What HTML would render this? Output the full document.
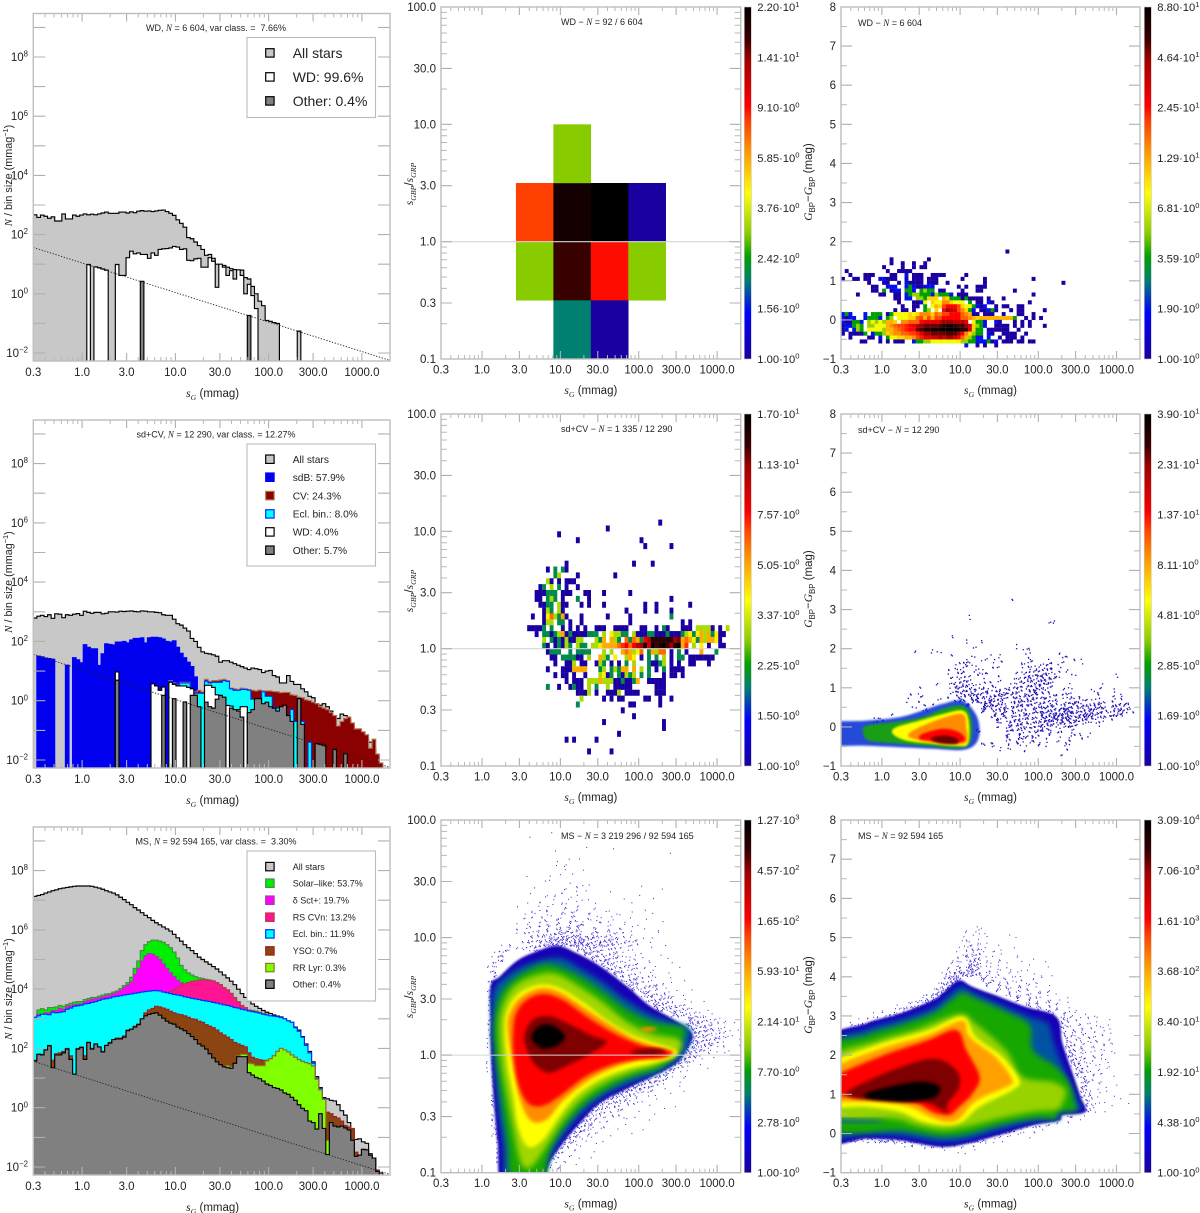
<!DOCTYPE html>
<html lang="en"><head><meta charset="utf-8"><title>Variability amplitude histograms and density maps</title>
<style>html,body{margin:0;padding:0;background:#fff}svg{display:block}</style></head>
<body>
<svg id="chart" xmlns="http://www.w3.org/2000/svg" width="1200" height="1213" viewBox="0 0 1200 1213">
<defs>
<filter id="soft1" x="-20%" y="-20%" width="140%" height="140%"><feGaussianBlur stdDeviation="1.1"/></filter>
<filter id="soft2" x="-20%" y="-20%" width="140%" height="140%"><feGaussianBlur stdDeviation="1.9"/></filter>
<filter id="soft3" x="-20%" y="-20%" width="140%" height="140%"><feGaussianBlur stdDeviation="3"/></filter>
<linearGradient id="cbar" x1="0" y1="1" x2="0" y2="0"></linearGradient>
</defs>
</svg>
<script>
const _ = null;
/* ---------- axis ticks ---------- */
const sgMajorTicks = [1,3,10,30,100,300,1000];
const sgMinorTicks = [.4,.5,.6,.7,.8,.9,2,4,5,6,7,8,9,20,40,50,60,70,80,90,200,400,500,600,700,800,900,2000];
const sgLabels = ['0.3','1.0','3.0','10.0','30.0','100.0','300.0','1000.0'];
const sgLabelValues = [.3,1,3,10,30,100,300,1000];
const ratioMajorTicks = [.1,.3,1,3,10,30,100];
const ratioMinorTicks = [.2,.4,.5,.6,.7,.8,.9,2,4,5,6,7,8,9,20,40,50,60,70,80,90];
const ratioLabels = ['0.1','0.3','1.0','3.0','10.0','30.0','100.0'];
const colourMajorTicks = [-1,0,1,2,3,4,5,6,7,8];
const colourMinorTicks = [-.5,.5,1.5,2.5,3.5,4.5,5.5,6.5,7.5];
const colourLabels = ['\u22121','0','1','2','3','4','5','6','7','8'];
const histYTicks = [-2,-1,0,1,2,3,4,5,6,7,8,9];
const histYLabelled = [-2,0,2,4,6,8];
/* ---------- colour scale ---------- */
const cmapFractions = [0,.13,.224,.29,.355,.47,.58,.67,.72,.85,.91,1];
const cmapColours = ['#1a00a0','#0000ff','#008070','#00a000','#88cc00','#ffff00','#ffa000','#ff4400','#ff0000','#a00000','#3a0000','#000000'];
/* ---------- row 1 histogram (log10 N / bin size, 100 bins) ---------- */
const wdAll = [2.67,2.58,2.66,2.62,2.55,2.6,2.46,2.46,2.7,2.53,2.53,2.66,2.62,2.66,2.7,2.67,2.69,2.67,2.7,2.73,2.76,2.72,2.72,2.72,2.76,2.76,2.73,2.77,2.74,2.79,2.81,2.79,2.8,2.78,2.8,2.82,2.83,2.78,2.72,2.65,2.5,2.38,2.25,1.9,1.86,1.75,1.63,1.5,1.3,1.33,1.2,1.0,.96,.96,.9,.85,.82,.8,.8,.55,.5,.25,.0,-.25,-.4,-.9,-.93,-.97,-1.0,_,_,_,_,_,-1.26];
const wdWD = [_,_,_,_,_,_,_,_,_,_,_,_,_,_,_,.99,_,.91,.88,.84,.8,_,_,.99,.62,.62,1.22,1.44,1.35,1.38,1.33,1.33,1.2,1.38,1.3,1.5,1.52,1.53,1.55,1.6,1.58,1.5,1.52,1.13,1.12,1.18,1.2,.9,.9,1.22,1.1,.22,1.0,.9,.62,.78,.5,.81,.62,.0,.32,-.06,-.5];
const wdOther = [_,_,_,_,_,_,_,_,_,_,_,_,_,_,_,_,_,_,_,_,_,_,_,_,_,_,_,_,_,_,.42,_,_,_,_,_,_,_,_,_,_,_,_,_,_,_,_,_,_,_,_,_,_,_,_,_,_,_,_,_,-.73];
/* ---------- row 2 histogram ---------- */
const sdAll = [2.79,2.85,2.88,2.84,2.9,2.78,2.93,2.92,2.8,2.9,2.88,2.92,2.94,2.88,3.02,2.98,2.95,2.98,2.98,2.93,2.95,3.0,3.0,2.99,3.02,3.01,3.02,3.03,3.01,3.0,3.03,3.02,3.0,3.0,2.98,2.97,2.9,2.88,2.88,2.75,2.6,2.55,2.45,2.35,2.1,2.0,1.8,1.65,1.6,1.58,1.55,1.5,1.3,1.35,1.35,1.3,1.25,1.2,1.15,1.1,1.05,1.1,1.08,1.05,.95,1.0,1.02,.85,.8,.6,.6,.85,.65,.55,.55,.4,.3,.15,.1,-.1,-.15,-.1,-.2,-.35,-.5,-.6,-.45,-.5,-.65,-.85,-1.0,-1.05,-1.2,-1.3,-1.4,-1.6,-1.9,-2.2,-2.4];
const sdB = [_,1.5,1.48,1.44,1.42,1.4,_,_,_,1.2,_,1.45,1.38,1.28,1.89,1.8,1.75,1.75,1.19,1.58,1.92,1.9,1.88,1.98,1.98,2.0,1.95,2.05,2.1,2.1,2.12,1.95,2.12,2.14,2.14,2.12,2.08,2.0,1.98,2.02,1.8,1.6,1.45,1.3,1.15,.8,.25,.25];
const sdCV = [_,_,_,_,_,_,_,_,_,_,_,_,_,_,_,_,_,_,_,_,_,_,_,_,_,_,_,_,_,_,_,_,_,_,_,_,_,_,.68,.6,.55,.62,.62,.62,.35,.3,.35,.3,.72,.65,.68,.68,.7,.72,.68,.42,.4,.38,.42,.4,.38,.35,.33,.36,.33,.33,.33,.31,.3,.27,.28,.28,.2,.18,.12,.1,.03,0,-.05,-.1,-.2,-.25,-.3,-.4,-.5,-.85,-.7,-.6,-.55,-.75,-.95,-.95,-1.05,-1.15,-1.6,-1.3,-1.8,-2.1,-2.3];
const sdEcl = [_,_,_,_,_,_,_,_,_,_,_,_,_,_,_,_,_,_,_,_,_,_,_,_,_,_,_,_,_,_,_,_,_,_,_,_,_,_,.66,.58,.53,.6,.6,.6,.3,.25,.25,.25,.66,.6,.62,.62,.62,.68,.65,.4,.35,.35,.38,.38,.35,.05,.05,.05,.3,.15,.15,-.22,-.25,-.25,-.3,-.6,-.3,-.7,-.7,-.7,_,-1.4,_,_,-1.5];
const sdWD = [_,_,_,_,_,_,_,_,_,_,_,_,_,_,_,_,_,_,_,_,_,_,_,.97,_,_,_,_,_,_,_,_,_,.57,.5,.35,.46,_,.62,.55,.5,.5,.5,.45,.4,.18,_,_,.52,.52,.45,.2,.15,_,-.16,-.18,_,-.3,-.2,-.2];
const sdOther = [_,_,_,_,_,_,_,_,_,_,_,_,_,_,_,_,_,_,_,_,_,_,_,.69,_,_,_,_,_,_,_,_,_,_,_,_,.18,_,_,.07,_,_,-.04,_,.18,.18,-.2,_,-.05,-.2,-.25,.05,.18,.12,_,-.25,-.3,-.35,-.55,_,-.4,-.3,.07,.07,-.1,-.05,-.2,-.25,-.35,-.2,-.15,-.5,-.7,_,.07,-.8,_,_,_,-1.45,-1.47,-1.5,_,_,-1.64,_,_,-1.79];
/* ---------- row 3 histogram ---------- */
const msAll = [7.13,7.16,7.19,7.24,7.28,7.32,7.35,7.39,7.41,7.43,7.45,7.47,7.48,7.48,7.48,7.48,7.47,7.44,7.41,7.37,7.32,7.28,7.24,7.18,7.1,7.02,6.93,6.85,6.75,6.67,6.58,6.49,6.41,6.32,6.24,6.17,6.1,6.03,5.96,5.85,5.73,5.62,5.5,5.4,5.3,5.2,5.08,5.0,4.92,4.84,4.76,4.68,4.58,4.48,4.38,4.27,4.15,4.0,3.85,3.72,3.6,3.5,3.42,3.35,3.28,3.22,3.18,3.13,3.09,3.06,3.0,2.93,2.88,2.72,2.62,2.4,2.15,1.9,1.55,1.05,.68,.34,.3,.25,.23,.1,-.1,-.25,-.5,-.75,-1.07,-1.05,-1.15,-1.2,-1.55,-1.7,-2.15,-2.2];
const msSolar = [3.05,3.3,3.34,3.3,3.38,3.38,3.4,3.45,3.42,3.48,3.52,3.56,3.58,3.58,3.65,3.68,3.72,3.72,3.76,3.8,3.84,3.85,3.9,3.94,4.02,4.12,4.22,4.4,4.7,4.95,5.3,5.5,5.6,5.65,5.65,5.62,5.58,5.5,5.4,5.25,5.05,4.8,4.65,4.55,4.48,4.42,4.38,4.36,4.33,4.31,4.28,4.22,4.15,4.05,3.98,3.86,3.72,3.58,3.45,3.38,3.3,3.28,3.26,3.22,3.18,3.16];
const msDSct = [3.02,3.15,3.15,3.2,3.2,3.28,3.28,3.35,3.32,3.42,3.44,3.48,3.5,3.5,3.58,3.62,3.66,3.68,3.7,3.74,3.78,3.8,3.85,3.9,3.96,4.06,4.14,4.25,4.5,4.7,4.95,5.13,5.2,5.18,5.1,5.0,4.85,4.7,4.55,4.42,4.3,4.22,4.16,4.12,4.1,4.08];
const msRSCVn = [_,_,_,_,_,_,_,_,_,_,_,_,_,_,_,_,_,_,_,_,_,_,_,_,_,_,_,_,_,_,_,_,_,_,_,_,_,3.9,3.92,3.98,4.06,4.12,4.18,4.22,4.26,4.28,4.3,4.31,4.3,4.29,4.27,4.22,4.15,4.05,3.97,3.85,3.7,3.56,3.44,3.38,3.28,3.26,3.22,3.2,3.16];
const msEcl = [3.05,3.1,3.15,3.15,3.14,3.22,3.2,3.22,3.24,3.32,3.36,3.42,3.44,3.46,3.5,3.52,3.55,3.58,3.62,3.66,3.68,3.7,3.74,3.76,3.78,3.8,3.82,3.84,3.86,3.88,3.9,3.92,3.93,3.95,3.95,3.94,3.9,3.88,3.85,3.82,3.8,3.78,3.74,3.72,3.69,3.67,3.65,3.62,3.6,3.58,3.55,3.53,3.5,3.47,3.45,3.42,3.38,3.36,3.32,3.3,3.26,3.24,3.22,3.19,3.15,3.13,3.1,3.09,3.07,3.04,3.0,2.93,2.88,2.7,2.58,2.38,2.1,1.85,1.5,1.0,.65,.3];
const msYSO = [1.6,1.8,1.8,1.95,2.1,1.6,1.82,1.85,1.9,2.0,1.75,1.13,2.0,2.05,1.75,2.2,2.0,2.15,2.05,1.9,2.1,2.2,2.3,2.35,2.35,2.42,2.62,2.65,2.75,2.82,3.0,3.2,3.3,3.35,3.42,3.4,3.36,3.32,3.25,3.2,3.16,3.14,3.1,3.05,3.0,2.98,2.92,2.88,2.8,2.75,2.7,2.62,2.52,2.45,2.38,2.3,2.2,2.15,2.1,2.05,1.85,1.7,1.65,1.62,1.6,1.6,1.65,1.75,1.9,2.0,1.95,1.88,1.78,1.7,1.62,1.56,1.52,1.48,1.4,.96,.6,.28,-.15,-.2,-.3,-.35,-.45,-.6,-.65,-.7,-1.5,-1.6,-1.4,-1.42,-1.6,-1.7,-2.1];
const msRRLyr = [_,_,_,_,_,_,_,_,_,_,_,_,_,_,_,_,_,_,_,_,_,_,_,_,_,_,_,_,_,_,_,_,_,_,_,_,_,_,_,_,_,_,_,_,_,_,_,_,_,_,_,_,_,_,1.42,1.38,_,1.75,1.8,1.8,1.5,1.48,1.42,1.42,1.42,1.58,1.65,1.75,1.9,2.0,1.95,1.88,1.78,1.7,1.62,1.56,1.52,1.48,1.4,.96,.6,.28,-1.1];
const msOther = [1.58,1.8,1.78,1.95,2.09,1.35,1.78,1.78,1.85,1.98,1.63,1.13,1.98,2.03,1.63,2.2,1.98,2.15,2.05,1.88,2.1,2.18,2.3,2.32,2.32,2.38,2.6,2.65,2.72,2.8,3.0,3.1,3.15,3.18,3.2,3.12,3.02,2.92,2.85,2.82,2.72,2.66,2.6,2.5,2.4,2.3,2.15,2.08,1.98,1.82,1.68,1.55,1.45,1.38,1.35,1.33,1.5,1.72,1.72,1.72,1.18,1.1,1.02,.98,.9,.8,.75,.68,.65,.6,.5,.45,.35,.25,.1,-.02,-.1,-.45,-.5,-.72,-.2,-.7,-1.58,-.5,-.62,-.65,-.62,-.68,-.75,-1.1,-1.64,-1.6,-1.41,-1.42,-1.6,-1.7,-2.15];
/* one-star-per-bin reference line: log10 s endpoints and log10 N */
const refLineLogS = [-.523,3.3];
const refLineLogN = [1.565,-2.25];
/* ---------- WD ratio map, 8 x 6 bins: [row, col, count] ---------- */
const wdRatioCounts = [[2,2,8],[2,3,20],[2,4,22],[2,5,1],[1,2,3],[1,3,17],[1,4,9],[1,5,3],[0,3,2],[0,4,1],[3,3,3]];
/* ---------- sparse rows: [row from bottom, "col cells col cells ..."] ---------- */
const sdRatioRows = [[41,"58 1"],[40,"44 1"],[39,"31 1"],[38,"36 1 53 1"],[37,"54 1 61 1"],[34,"33 1 51 1 56 1"],[33,"28 1 30 2 32 21"],[32,"30 2 31 3 36 1 46 1"],[31,"28 31 31 1 33 111"],[30,"26 12 29 3 31 2 33 1 36 1"],[29,"25 111 28 222 32 111 38 11 43 1 50 1"],[28,"25 11 28 232 32 1 36 2 39 1 61 1"],[27,"26 11 28 22 31 311 37 1 39 1 43 1 54 1 57 1 66 1"],[26,"27 13 29 2 31 31 49 1 54 1 57 1 61 1"],[25,"24 1 27 14 29 63 31 251 37 1 44 1 50 1 61 2"],[24,"27 13 29 3 31 22 34 1 37 1 50 1 64 1 66 1"],[23,"23 111 26 12 29 2 32 1 34 1 36 1 38 1 41 111 46 11 48 11 53 11 57 1 59 21 64 11 66 1 68 3333 72 1 74 1 76 3"],[22,"25 1 27 22 29 12 31 3512 35 1111 39 222 43 3 45 4 46 3322 51 3111 55 2211 59 12 60 2111 64 2342 68 4535 72 2411"],[21,"27 3 29 2 30 1213 34 1133 41 32 43 5 45 532 49 6265 53 24 54 8a 56 eeeeee 62 bc 64 5654 68 2535 72 541"],[20,"27 2 28 1 30 1213 34 2 36 322 40 3344 43 5555 47 6786 51 8abe 54 f9hdfhdbfg 64 57 67 3 69 4 71 1 74 11"],[19,"28 1222 34 2 36 222 39 2 43 3 45 3 48 565 51 346 55 2 56 5366 61 1 63 2 65 1 69 5 73 2"],[18,"29 11 32 222211 39 3 42 5 43 32 46 4 49 354 53 1 55 2 57 2 59 3 61 1 63 22 66 11 68 1111 72 1"],[17,"30 1 33 113 37 11 41 1 42 3 43 2 45 1 47 1 49 2 51 3 55 21 57 123 61 1 63 1 66 11 71 1"],[16,"28 1 32 111 35 5555 42 2 43 3 45 2 46 3255 51 5 53 3 55 2 57 1 59 2 61 1111"],[15,"30 1 32 1 33 1 35 1 38 1 42 34 44 12 47 2132 51 3 53 2 55 2 59 1 61 1 62 1 64 1"],[14,"33 1 35 111 39 333 42 5 43 3 44 33 46 11211 51 2 52 5 55 1 56 1111"],[13,"28 2 31 1 34 12 36 11 39 3 41 2 44 3 46 11111 57 111"],[12,"36 111 39 3 41 1 44 111 47 3 49 11 51 11 57 111"],[11,"37 3 43 1 45 1 47 1 48 1 54 11 58 1 61 1"],[10,"36 2 50 11 58 1"],[9,"48 1"],[8,"51 1"],[7,"43 1 59 1"],[6,"59 1"],[5,"47 1"],[4,"33 1 35 1 41 1"],[2,"39 1 45 1"]];
const wdColourRows = [[27,"44 1"],[25,"13 1 23 1"],[24,"13 1 16 1 19 1 22 1"],[23,"11 1 16 1 19 1 21 11"],[22,"1 1 12 1 15 1111"],[21,"2 1 6 111 13 11 17 2 19 111 24 1111 33 1"],[20,"0 1 3 11 6 11 10 22 12 111 17 1 19 111 23 111 32 1 38 1 51 1"],[19,"7 1 11 11 15 1 17 21 19 111 23 111 28 1 38 1 59 1"],[18,"8 11 12 222 17 232 20 112 23 22 31 1 33 1 36 111"],[17,"8 11 11 3 13 122 17 332 21 3433 26 11 32 1 36 11 46 1"],[16,"4 1 10 11 14 11 17 234 20 433 23 3243 27 332 31 11 33 1 51 1"],[15,"14 11 17 22 20 443 23 666 27 763 30 331 33 311 36 11 39 1 43 1"],[14,"15 1 19 112 22 5 24 655 27 886 30 555 34 3 36 11 39 21 50 1"],[13,"16 1 19 11 22 3 24 576 27 accca 32 655 35 3 36 212 41 1 43 11 47 11"],[12,"14 1 16 11 19 1 22 34 25 6 27 cgfea 32 86 34 32 37 11 39 23 41 1 45 1 47 11 54 1"],[11,"0 232 6 2 8 333 12 135 15 555656 21 888698 27 aaccc 32 987 35 11 38 111 43 1 47 11 51 1"],[10,"0 2 1 122 6 23332 12 34 15 55566 20 9a7a7aa 27 ccccc 32 99876 37 777777777 46 3 49 1 51 1 53 1"],[9,"0 211332 7 45454 12 776 16 88999 21 cdddde 27 gggfffd 35 5332 41 21 46 1 48 1 50 1"],[8,"0 1 1 22343 7 44555 12 789aabcd 20 fghhhhi 27 jklji 32 ige 35 6432 41 1111 46 1 48 1 50 1 54 1"],[7,"0 12 3 243 7 55554 12 7789abcc 20 hijklll 27 mmmmm 32 kje 35 633 39 11 41 1111 47 1"],[6,"0 1 2 1111 6 3 8 2334 12 6788 16 99aab 21 dgghhh 27 hiiig 32 c86 35 433 39 21 43 1 44 111 49 1"],[5,"2 1 7 11 10 2 12 35566778 20 abddeeg 27 eggec 32 974 35 322 39 2 42 1 44 111 48 1"],[4,"5 11 10 1 12 1 14 111 19 23344555 27 55555443 35 3222 39 312 43 111 47 11 50 11"],[3,"33 2 36 1 38 1 41 1"]];
const wdColourLevelFractions = [0,0,.14,.29,.37,.46,.52,.56,.6,.64,.67,.7,.72,.75,.78,.81,.85,.88,.9,.93,.95,.97,1];
const sdColourDots = [[34,"34 1"],[30,"25 1"],[29,"41 11"],[26,"22 1"],[25,"25 1 28 1"],[24,"26 1 35 1 37 1"],[23,"14 1 18 1 19 1 36 11 43 1"],[22,"22 1 26 1 29 1 31 1 37 1 44 1 45 1"],[21,"23 11 25 2 28 1 30 1 32 1 36 11 38 1 41 11 44 1 46 1 48 1"],[20,"22 1 24 11 26 1 30 11 36 1 37 11 39 11 41 21 43 1"],[19,"21 1 23 22 26 111 29 1 35 1 36 121 39 213 42 11 45 1"],[18,"21 11 23 111 27 11 31 1 35 1 36 231 39 342 42 21 46 1 55 1"],[17,"22 121 25 2 28 11 31 1 34 11 36 2223 40 43 42 1"],[16,"15 1 19 1 21 122 24 322 27 11 30 2 33 1 34 1212 38 332 41 21 45 1 52 1"],[15,"22 1 23 323 26 2 28 231 31 31 33 2121 37 3422 41 1 44 1 46 1 50 11 54 1"],[14,"13 1 15 11 21 2 23 332 26 342 29 222 32 3232 36 222 39 222 42 11 44 121 47 1 51 1 54 1 56 1"],[13,"13 1 15 1 19 1 22 12 24 2 26 45 28 24 30 323 34 3323 38 2221 42 11 44 1 45 1 46 22 48 11 50 11 52 1 54 2 56 1"],[12,"14 1 16 1 18 1 25 4 28 53 30 333 34 2223 38 3233 42 3 43 1 44 3232 48 333 51 32 54 232 57 2"],[11,"16 11 28 5 30 3 31 34 33 1312 38 3233 42 33 44 543 47 343 50 332 53 223 56 321 58 1"],[10,"10 1 30 5 32 4 34 3 35 1222 40 5454 44 453 47 444 50 423 53 1 54 232"],[9,"6 12 8 1 31 4 33 222 36 1223 40 4343 44 552 47 322 50 21 52 1 54 1"],[8,"31 2 33 313 36 2222 40 2323 44 232 47 1 48 1 51 1"],[7,"27 3 33 22 35 222 38 1 39 23 41 2 43 11 46 1"],[6,"33 3 35 211 38 21 41 2 43 1 46 21 49 1"],[5,"33 2 35 22 38 3 41 1 43 1 45 2 48 1"],[4,"28 2 30 3 33 1 35 2 37 1 39 2 41 1 44 11"],[3,"31 1 33 1 36 1 45 1"],[2,"44 1"]];
const msRatioDots = [[67,"22 1"],[66,"17 1"],[64,"29 1 34 1"],[63,"22 1 45 1"],[62,"25 1 27 1"],[61,"23 2 24 1"],[60,"24 2 28 1"],[59,"23 1 26 1"],[58,"17 1 21 2"],[57,"20 1 25 1 28 11"],[56,"18 1 24 2 27 21 40 1 44 1"],[55,"17 1 21 11 24 2 27 2 33 1 39 1"],[54,"20 1 22 2 25 2 28 11 36 1 42 1"],[53,"17 1 19 2 22 1 24 3 27 2 30 1 38 1"],[52,"15 1 19 2 21 3 24 3 27 3 30 2 33 1 40 1"],[51,"16 1 18 3 21 3 24 4 26 4 29 3 32 1 35 2 38 1 42 1"],[50,"16 2 18 2 20 4 23 5 26 5 29 3 31 3 34 2 37 1 41 1"],[49,"15 1 17 2 19 3 21 4 23 4 25 5 27 5 28 4 31 3 33 3 36 2 39 1 44 1"],[48,"15 2 17 3 19 4 21 5 23 6 25 6 27 6 30 4 33 3 35 3 38 2 40 1 43 1"],[47,"15 1222334445566 30 5 31 4 33 4 34 212 38 1 43 1"],[46,"17 2345678 24 988776554 33 44332 38 211 42 1"],[45,"16 234567 22 9999998877 32 66543 37 322 41 1 44 1"],[44,"15 23456 27 7654433 34 32 37 11 42 1"],[43,"28 7654433 35 32 38 11 43 1"],[42,"30 7654332 37 22 40 11 45 1"],[41,"32 654332 38 22 41 11 46 1"],[40,"33 65432 38 322 42 1 47 1"],[39,"34 654321 41 21 45 1"],[38,"36 65432 41 22 45 1 48 1"],[37,"37 65432 42 322 46 1"],[36,"38 65432 43 21 47 1 50 1"],[35,"40 6543 44 321 48 1"],[34,"41 6543 45 32 48 1 52 1"],[33,"42 7654 46 322 50 1"],[32,"43 8765 47 332 50 1 53 1"],[31,"46 765 49 332 52 2 54 1"],[30,"49 84 51 433 54 21 56 1"],[29,"49 765 52 4322 56 1 58 1"],[28,"50 76 52 5443 56 21 59 1"],[27,"50 55433 55 3211 60 1"],[26,"49 86 51 4544 55 32 59 1"],[25,"49 876 52 553 55 32 59 1"],[24,"48 987 51 332 55 1 57 1"],[23,"47 987 50 54 53 2 56 1"],[22,"46 987 49 52 52 1 54 1"],[21,"45 76 47 432 51 1"],[20,"43 76 45 443 49 1 53 1"],[19,"42 87 44 432 48 1"],[18,"40 876 43 432 47 11"],[17,"38 876 41 5321 47 1"],[16,"36 876 39 5432 44 1 48 1"],[15,"34 87 36 6432 41 11 45 1"],[14,"31 87 33 66432 39 21 43 1"],[13,"29 87 31 65543 37 32 41 1 46 1"],[12,"28 87 30 5543 35 32 39 1 44 1"],[11,"27 77 29 5443 34 32 38 1 42 1"],[10,"26 78 28 6532 33 2 36 11 41 1"],[9,"25 88 27 6543 32 2 36 1"],[8,"24 88 26 6543 31 2 35 1 40 1"],[7,"23 88 25 654 29 32 33 1 38 1"],[6,"22 88 24 654 28 2 32 1"],[5,"21 88 23 654 27 2 31 1"],[4,"20 87 22 654 26 2 30 1"],[3,"20 7 21 654 25 2 29 1"],[2,"19 87 21 54 24 2 27 1"],[1,"19 7 20 54 23 2 26 1"],[0,"18 87 20 4 23 1"]];
const msRatioLeftDots = [[45,"12 12"],[44,"11 123"],[43,"10 133"],[42,"10 134"],[41,"9 14"],[40,"9 14"],[39,"9 15"],[38,"9 15"],[37,"9 25"],[36,"9 25"],[35,"9 25"],[34,"9 25"],[33,"9 15"],[32,"9 15"],[31,"9 14"],[30,"9 24"],[29,"9 24"],[28,"9 24"],[27,"9 24"],[26,"9 14"],[25,"9 14"],[24,"9 14"],[23,"9 15"],[22,"9 15"],[21,"9 15"],[20,"9 26"],[19,"10 26"],[18,"10 26"],[17,"10 36"],[16,"10 36"],[15,"10 36"],[14,"10 46"],[13,"10 46"],[12,"10 247"],[11,"10 247"],[10,"10 347"],[9,"10 257"],[8,"10 257"],[7,"10 367"],[6,"11 37"],[5,"11 47"],[4,"11 38"],[3,"11 38"],[2,"11 38"],[1,"12 27"],[0,"12 27"]];
const msColourDots = [[48,"25 1 27 2 28 1"],[47,"24 1 26 211 33 1"],[46,"24 2 25 2 27 1 29 1 35 1"],[45,"24 1 25 31 27 3 29 1 31 1"],[44,"23 1 25 3 26 3 27 3 28 2 30 1 32 1 34 1"],[43,"23 12 25 35 27 4 28 1 30 2 32 1 35 1"],[42,"22 1 23 3 25 55 27 4 29 2 31 2 35 11 38 1"],[41,"22 2 23 4 25 76 27 5 29 3 31 2 33 1 37 1 40 1"],[40,"21 3 23 6 25 88 27 6 29 3 31 2 33 2 36 11 41 1"],[39,"20 24 22 67 24 988 27 7 29 4 31 3 33 2 35 2 38 1 40 1 42 1"],[38,"20 35 22 89 28 8 30 5 32 3 34 3 36 2 38 2 40 1"],[37,"19 15 21 79 29 8 31 5 33 4 35 3 37 3 39 2 41 1"],[36,"18 14 20 68 31 7 33 5 35 4 37 3 39 2 41 2"],[35,"16 1 17 25 19 79 33 7 35 5 37 4 39 3 41 2 43 1"],[34,"14 1 15 13 17 58 35 7 37 5 39 4 41 3 43 1 45 1"],[33,"11 1 13 23 15 47 17 9 37 8 39 6 41 5 43 3 45 1"],[32,"8 1 10 12 12 34 14 68 39 8 41 6 43 4 45 2 47 1"],[31,"6 11 8 23 10 45 12 79 42 7 44 4 46 3 48 1 50 1"],[30,"3 1 5 22 7 34 9 58 44 6 45 4 47 3 49 2 51 2 53 1"],[29,"1 22 3 34 5 46 7 79 44 5 45 4 47 3 49 2 51 2 53 1"],[28,"0 2233 4 56 6 79 44 5 46 4 48 3 50 3 52 2 53 1"],[27,"0 4455 4 788 44 6 46 5 48 4 50 3 52 2 54 1"],[26,"0 777 45 6 47 5 49 4 51 3 53 2"],[25,"45 65 48 4 50 3 52 3 54 2"],[24,"45 6 46 5 48 4 50 3 52 2 54 1"],[23,"45 76 48 4 50 3 52 2 54 1"],[22,"46 65 48 4 50 3 52 2"],[21,"46 7 47 5 49 4 51 2 53 2"],[20,"47 65 49 3 51 2 53 1"],[19,"47 7 48 5 50 3 52 2 54 1"],[18,"48 54 50 2 52 1"],[17,"48 6 49 3 51 2 53 1 55 1"],[16,"48 6 49 3 51 1 53 1"],[15,"48 6 49 4 51 2 54 1"],[14,"49 4 50 2 52 1 56 1"],[13,"49 53 51 1 54 1 57 1"],[12,"49 6 50 2 52 1"],[11,"45 2 46 4 48 1"],[10,"40 3 41 4 42 5 43 4 45 2 47 1"],[9,"35 3 36 5 37 6 38 5 39 4 41 3 43 1"],[8,"30 4 31 6 32 7 33 6 34 5 36 3 38 2 40 1"],[7,"24 3 25 6 26 8 27 8 28 7 29 6 31 4 33 3 35 2 37 1"],[6,"0 4454455566667788889999 24 88765 30 2 32 1"],[5,"10 1 12 2 14 3 16 4 18 5 20 5 22 4 24 3 26 2 28 1"],[4,"16 1 20 1 23 1 26 1"],[3,"24 1"]];
/* fixed placement tables for successive dots inside a density cell */
const ditherX = [.31,.83,.12,.57,.94,.42,.07,.71,.25,.63,.88,.18,.49,.02,.76,.36,.97,.54,.21,.68,.09,.45,.8];
const ditherY = [.62,.11,.87,.38,.74,.03,.51,.93,.27,.68,.16,.44,.81,.33,.58,.97,.22,.72,.06];
/* ---------- density contours: [colour fraction, log10 s list, value list, optional opacity] ---------- */
const msRatioContours = [
 [.03,[.11,.11,.23,.44,.65,.95,1.2,1.5,1.84,2.14,2.4,2.61,2.69,2.61,2.48,2.18,1.84,1.5,1.25,1.03,.86,.74,.27,.2,.16,.13,.11],[.28,.59,.67,.8,.87,.93,.87,.76,.59,.42,.32,.23,.16,.05,-.07,-.18,-.29,-.41,-.58,-.75,-.92,-1.15,-1.15,-.75,-.46,-.18,.11]],
 [.2,[.13,.15,.31,.54,.82,1.03,1.25,1.54,1.84,2.14,2.44,2.65,2.63,2.52,2.23,1.89,1.54,1.25,1.03,.86,.74,.33,.27,.21,.17,.14],[.28,.55,.67,.76,.82,.82,.74,.62,.47,.35,.28,.23,.08,-.03,-.15,-.24,-.35,-.51,-.69,-.88,-1.15,-1.15,-.75,-.46,-.15,.11]],
 [.3,[.16,.23,.4,.65,.86,1.16,1.5,1.84,2.18,2.57,2.54,2.48,2.27,1.93,1.59,1.29,1.03,.86,.74,.4,.33,.27,.2,.16],[.28,.5,.64,.74,.77,.7,.56,.39,.28,.23,.11,.01,-.11,-.18,-.29,-.43,-.63,-.83,-1.15,-1.15,-.75,-.46,-.12,.11]],
 [.38,[.22,.27,.42,.69,.95,1.23,1.54,1.86,2.18,2.52,2.5,2.23,1.89,1.54,1.25,1.01,.82,.63,.5,.4,.32,.25],[.25,.43,.59,.68,.69,.59,.45,.28,.18,.13,.02,-.08,-.15,-.25,-.39,-.58,-.78,-.95,-.92,-.63,-.35,-.07]],
 [.47,[.29,.33,.48,.74,.99,1.29,1.59,1.89,2.18,2.48,2.44,2.18,1.84,1.5,1.2,.99,.78,.59,.46,.4,.33],[.22,.39,.53,.6,.57,.45,.3,.18,.11,.04,-.02,-.07,-.12,-.21,-.35,-.52,-.72,-.78,-.61,-.35,-.09]],
 [.6,[.33,.37,.51,.76,1.01,1.31,1.63,1.97,2.35,2.46,2.31,2.01,1.67,1.35,1.03,.82,.63,.5,.42],[.22,.38,.5,.57,.53,.4,.26,.13,.05,.02,-.02,-.04,-.11,-.22,-.39,-.55,-.56,-.41,-.18]],
 [.72,[.4,.44,.57,.78,1.03,1.33,1.67,2.01,2.35,2.42,2.31,1.97,1.67,1.33,.99,.78,.59,.46,.4],[.22,.36,.47,.52,.47,.33,.19,.09,.04,.02,-.02,-.04,-.08,-.18,-.35,-.43,-.41,-.24,.02]],
 [.87,[.54,.65,.86,1.12,1.42,1.59,1.33,1.08,.86,.69,.59],[.16,.3,.33,.26,.16,.11,-.01,-.09,-.15,-.09,.02]],
 [.87,[1.93,2.18,2.35,2.18,1.93],[.04,.06,.03,0,.01]],
 [.6,[2.02,2.12,2.24,2.12],[.22,.24,.22,.2]],
 [1,[.63,.74,.91,1.06,.95,.76],[.15,.25,.25,.16,.08,.06]]
];
const msColourContours = [
 [.03,[-.75,-.2,.23,.65,.82,.99,1.16,1.5,1.84,2.23,2.31,2.44,2.54,2.6,2.31,2.27,1.93,1.5,1.08,.74,.23,-.2,-.75],[2.25,2.81,3.06,3.4,3.66,3.91,3.74,3.49,3.23,2.98,2.3,1.53,.94,.55,.47,.34,.21,-.04,-.26,-.34,-.17,-.13,-.1]],
 [.19,[-.75,-.2,.23,.65,.84,1.01,1.18,1.54,1.89,2.12,2.2,2.35,2.48,2.54,2.28,2.25,1.93,1.5,1.08,.74,.23,-.2,-.75],[2.15,2.66,2.91,3.21,3.51,3.76,3.59,3.28,2.98,2.81,2.3,1.53,.94,.6,.53,.36,.3,.09,-.15,-.21,-.06,-.02,.03]],
 [.3,[-.75,-.2,.23,.65,.86,1.03,1.2,1.59,1.89,1.93,2.23,2.4,2.46,2.48,2.25,2.23,1.93,1.5,1.08,.74,.23,-.75],[2.08,2.51,2.77,3.06,3.36,3.59,3.45,3.11,2.77,2.13,1.7,1.28,.85,.6,.55,.38,.38,.21,-.02,-.07,.07,.17]],
 [.37,[-.75,-.07,.44,.99,1.2,1.59,1.8,2.18,2.35,2.31,2.23,1.93,1.5,1.08,.78,.44,.14,-.75],[1.83,2.37,2.66,3.05,2.8,2.11,1.45,1.32,1.11,.77,.6,.55,.38,.17,.09,.21,.38,.45]],
 [.2,[-.75,-.2,.05,-.2,-.75],[.39,.36,.32,.26,.28]],
 [.47,[-.75,-.07,.57,1.03,1.2,1.54,1.76,1.67,1.25,1.03,.82,.52,.23,-.2,-.75],[1.66,2.26,2.62,2.98,2.47,1.96,1.36,1.11,.68,.3,.21,.3,.55,.68,.74]],
 [.58,[-.75,-.07,.57,1.03,1.12,1.46,1.67,1.59,1.2,.99,.82,.61,.35,-.07,-.75],[1.53,2.13,2.51,2.88,2.47,1.94,1.36,1.19,.83,.38,.3,.43,.68,.81,.87]],
 [.72,[-.75,-.03,.57,.95,1.08,1.25,1.16,.99,.86,.65,.44,.06,-.75],[1.32,1.96,2.37,2.64,2.13,1.45,1.02,.68,.47,.55,.77,.89,1.0]],
 [.87,[-.41,.14,.65,.95,.99,.84,.82,.61,.27,-.2,-.41],[1.11,1.62,1.91,1.62,1.19,.77,.55,.77,.83,.87,.94]],
 [1,[-.2,.18,.52,.74,.69,.52,.23,-.16],[1.02,1.23,1.32,1.19,.94,.85,.81,.89]]
];
const sdColourContours = [
 [.16,[-.7,-.2,.23,.52,.78,1.03,1.2,1.25,1.2,1.03,.65,.23,-.2,-.7],[.08,.16,.25,.42,.59,.67,.33,-.09,-.43,-.59,-.56,-.52,-.48,-.43],.85],
 [.3,[-.2,.14,.52,.78,1.03,1.14,1.14,.99,.65,.23,-.16,-.24],[.03,.12,.25,.46,.54,.25,-.35,-.54,-.5,-.43,-.35,-.14],.9],
 [.47,[.18,.48,.78,1.03,1.11,1.1,.95,.65,.31,.14],[-.01,.16,.33,.42,.16,-.43,-.48,-.43,-.35,-.18]],
 [.6,[.4,.74,1.03,1.08,1.08,.86,.61,.35],[-.09,.2,.33,-.01,-.39,-.43,-.39,-.26]],
 [.72,[.52,.78,.99,1.06,.86,.61,.48],[-.18,-.05,-.14,-.35,-.42,-.35,-.31]],
 [.88,[.65,.82,.97,.95,.78,.65],[-.26,-.22,-.31,-.43,-.42,-.35]]
];
/* ---------- text content ---------- */
const rowAnnotations = [
 ['WD, ','N',' = 6 604, var class. =\u00a0\u00a07.66%'],
 ['sd+CV, ','N',' = 12 290, var class. = 12.27%'],
 ['MS, ','N',' = 92 594 165, var class. =\u00a0\u00a03.30%']];
const ratioAnnotations = [['WD \u2212 ','N',' = 92 / 6 604'],['sd+CV \u2212 ','N',' = 1 335 / 12 290'],['MS \u2212 ','N',' = 3 219 296 / 92 594 165']];
const colourAnnotations = [['WD \u2212 ','N',' = 6 604'],['sd+CV \u2212 ','N',' = 12 290'],['MS \u2212 ','N',' = 92 594 165']];
const ratioBarLabels = [
 ['2.20^1','1.41^1','9.10^0','5.85^0','3.76^0','2.42^0','1.56^0','1.00^0'],
 ['1.70^1','1.13^1','7.57^0','5.05^0','3.37^0','2.25^0','1.50^0','1.00^0'],
 ['1.27^3','4.57^2','1.65^2','5.93^1','2.14^1','7.70^0','2.78^0','1.00^0']];
const colourBarLabels = [
 ['8.80^1','4.64^1','2.45^1','1.29^1','6.81^0','3.59^0','1.90^0','1.00^0'],
 ['3.90^1','2.31^1','1.37^1','8.11^0','4.81^0','2.85^0','1.69^0','1.00^0'],
 ['3.09^4','7.06^3','1.61^3','3.68^2','8.40^1','1.92^1','4.38^0','1.00^0']];
const legendWD = [['All stars','#c8c8c8','#000'],['WD: 99.6%','#ffffff','#000'],['Other: 0.4%','#808080','#000']];
const legendSD = [['All stars','#c8c8c8','#000'],['sdB: 57.9%','#0000ee','#0000ff'],['CV: 24.3%','#8b0000','#b07050'],['Ecl. bin.: 8.0%','#00ffff','#0030ff'],['WD: 4.0%','#ffffff','#000'],['Other: 5.7%','#808080','#000']];
const legendMS = [['All stars','#c8c8c8','#000'],['Solar\u2013like: 53.7%','#00ee00','#4a8a4a'],['\u03b4 Sct+: 19.7%','#ff00ff','#a040a0'],['RS CVn: 13.2%','#ff1493','#c03050'],['Ecl. bin.: 11.9%','#00ffff','#0030ff'],['YSO: 0.7%','#8b4513','#a02020'],['RR Lyr: 0.3%','#7fff00','#8a7a20'],['Other: 0.4%','#808080','#000']];

/* ---------- helpers ---------- */
const NS = 'http://www.w3.org/2000/svg';
const svg = document.getElementById('chart');
function make(tag, attrs, parent){
  const n = document.createElementNS(NS, tag);
  for (const k in attrs) n.setAttribute(k, attrs[k]);
  parent.appendChild(n);
  return n;
}
function group(parent, name){
  const g = make('g', {}, parent);
  
  
  return g;
}
const LOG_MIN = Math.log10(.3), LOG_MAX = Math.log10(2000);
function hexToRgb(h){ return [1,3,5].map(i => parseInt(h.substr(i,2),16)); }
function colourOf(f){
  f = Math.max(0, Math.min(1, f));
  for (let i = 1; i < cmapFractions.length; i++){
    if (f <= cmapFractions[i]){
      const t = (f - cmapFractions[i-1]) / (cmapFractions[i] - cmapFractions[i-1]);
      const a = hexToRgb(cmapColours[i-1]), b = hexToRgb(cmapColours[i]);
      return 'rgb(' + a.map((v,k) => Math.round(v + (b[k]-v)*t)).join(',') + ')';
    }
  }
  return '#000';
}
const gradient = document.getElementById('cbar');
cmapFractions.forEach((f,i) => make('stop', {offset:f, 'stop-color':cmapColours[i]}, gradient));

function rich(parent, x, y, parts, o, name){
  const attrs = {x:x, y:y, 'font-family':'"Liberation Sans",sans-serif', 'font-size':o.size, fill:o.fill||'#222', 'text-anchor':o.anchor||'start'};
  if (o.rot) attrs.transform = 'rotate(-90 ' + x + ' ' + y + ')';
  const t = make('text', attrs, parent);
  
  
  let shift = 0;
  parts.forEach(p => {
    const s = p[1] || '';
    const target = s.includes('sub') ? o.size*.25 : s.includes('sup') ? -o.size*.38 : 0;
    const a = {dy:(target-shift).toFixed(2)};
    if (s.includes('sub') || s.includes('sup')) a['font-size'] = o.size*.68;
    if (s.includes('i')) { a['font-family'] = '"Liberation Serif",serif'; a['font-style'] = 'italic'; }
    const ts = make('tspan', a, t);
    ts.textContent = p[0];
    shift = target;
  });
  return t;
}
function stroked(parent, d, stroke, width, name){
  const p = make('path', {d:d, fill:'none', stroke:stroke, 'stroke-width':width}, parent);
  
  
  return p;
}
function parseCells(str){
  const parts = str.split(' '), out = [];
  for (let i = 0; i < parts.length; i += 2){
    const c = +parts[i];
    for (let k = 0; k < parts[i+1].length; k++) out.push([c+k, parseInt(parts[i+1][k], 36)]);
  }
  return out;
}
let clipCount = 0;
function panel(x0, x1, y0, y1, vmin, vmax, name){
  const g = group(svg, name);
  const id = 'clip' + (clipCount++);
  const cp = make('clipPath', {id:id}, g);
  make('rect', {x:x0, y:y0, width:x1-x0, height:y1-y0}, cp);
  const body = make('g', {'clip-path':'url(#'+id+')'}, g);
  
  
  return {g, body, x0, x1, y0, y1, vmin, vmax,
    sx: l => x0 + (l-LOG_MIN)/(LOG_MAX-LOG_MIN)*(x1-x0),
    sy: v => y1 - (v-vmin)/(vmax-vmin)*(y1-y0)};
}
function frameAndTicks(p, yMajor, yMinor, majorLen, minorLen){
  const dMaj = [], dMin = [];
  sgMajorTicks.forEach(v => { const x = p.sx(Math.log10(v)).toFixed(1); dMaj.push(`M${x} ${p.y1}v-8M${x} ${p.y0}v8`); });
  sgMinorTicks.forEach(v => { const x = p.sx(Math.log10(v)).toFixed(1); dMin.push(`M${x} ${p.y1}v-4M${x} ${p.y0}v4`); });
  yMajor.forEach(v => { const y = p.sy(v).toFixed(1); dMaj.push(`M${p.x0} ${y}h${majorLen}M${p.x1} ${y}h-${majorLen}`); });
  yMinor.forEach(v => { const y = p.sy(v).toFixed(1); dMin.push(`M${p.x0} ${y}h${minorLen}M${p.x1} ${y}h-${minorLen}`); });
  stroked(p.g, dMin.join(''), '#b8b8b8', 1, 'minor-ticks');
  stroked(p.g, dMaj.join(''), '#b0b0b0', 1.1, 'major-ticks');
  const f = make('rect', {x:p.x0, y:p.y0, width:p.x1-p.x0, height:p.y1-p.y0, fill:'none', stroke:'#bdbdbd', 'stroke-width':1.4}, p.g);
  
  
}
function xAxisText(p, labelOffset, titleOffset){
  sgLabelValues.forEach((v,i) => {
    rich(p.g, p.sx(Math.log10(v)), p.y1+labelOffset, [[sgLabels[i]]], {size:11.5, anchor:'middle'}, 'x-tick-label');
  });
  rich(p.g, (p.x0+p.x1)/2 - (p.x0 < 40 ? -1 : 0), p.y1+titleOffset, [['s','i'],['G','i sub'],[' (mmag)']], {size:11.5, anchor:'middle'}, 'x-axis-title');
}
function histogram(p, values, fill, stroke, name){
  let d = '';
  const edge = i => p.sx(LOG_MIN + i*(LOG_MAX-LOG_MIN)/100).toFixed(2);
  const base = p.y1 + 6;
  let open = false;
  for (let i = 0; i <= 100; i++){
    const v = i < 100 ? values[i] : null;
    const has = v !== null && v !== undefined;
    if (has){
      const y = p.sy(v).toFixed(2);
      if (!open){ d += `M${edge(i)} ${base}L${edge(i)} ${y}`; open = true; }
      else d += `L${edge(i)} ${y}`;
      d += `L${edge(i+1)} ${y}`;
    } else if (open){
      d += `L${edge(i)} ${base}Z`;
      open = false;
    }
  }
  const path = make('path', {d:d, fill:fill, stroke:stroke, 'stroke-width':1.15, 'stroke-linejoin':'miter'}, p.body);
  
  
}
function refLine(p){
  const d = `M${p.sx(refLineLogS[0])} ${p.sy(refLineLogN[0])}L${p.sx(refLineLogS[1])} ${p.sy(refLineLogN[1])}`;
  const l = make('path', {d:d, stroke:'#222', 'stroke-width':.9, 'stroke-dasharray':'1.3 1.6', fill:'none'}, p.body);
  
  
}
function legend(x, y, w, h, entries, rowYs, size){
  const g = group(svg, 'legend');
  const box = make('rect', {x:x, y:y, width:w, height:h, fill:'#fff', stroke:'#bbb', 'stroke-width':1.1}, g);
  
  
  entries.forEach((e,i) => {
    const s = make('rect', {x:x+18.7, y:rowYs[i]-4.3, width:8.4, height:8.4, fill:e[1], stroke:e[2], 'stroke-width':1.2}, g);
    
    
    rich(g, x+45.7, rowYs[i]+size*.36, [[e[0]]], {size:size}, 'legend-entry');
  });
}
function annotation(p, x, y, parts, anchor){
  rich(p.g, x, y, [[parts[0]],[parts[1],'i'],[parts[2]]], {size:9, anchor:anchor||'start'}, 'panel-annotation');
}
function colourbar(x, y0, y1, labels){
  const g = group(svg, 'colour-bar');
  const r = make('rect', {x:x, y:y0, width:7, height:y1-y0, fill:'url(#cbar)', stroke:'#c4c4c4', 'stroke-width':.6}, g);
  
  
  labels.forEach((lab,i) => {
    const y = y0 + (y1-y0)*i/7;
    const parts = lab.split('^');
    rich(g, x+13, y+4, [[parts[0]+'\u00b710'],[parts[1],'sup']], {size:11.2}, 'colour-bar-label');
  });
}
function cells(p, rows, nCols, nRows, colourFn, name){
  const dx = (p.x1-p.x0)/nCols, dv = (p.vmax-p.vmin)/nRows;
  const g = group(p.body, name);
  rows.forEach(row => {
    parseCells(row[1]).forEach(c => {
      if (!c[1]) return;
      const x = p.x0 + c[0]*dx, yTop = p.sy(p.vmin + (row[0]+1)*dv), yBot = p.sy(p.vmin + row[0]*dv);
      const rect = make('rect', {x:x.toFixed(2), y:yTop.toFixed(2), width:(dx+.15).toFixed(2), height:(yBot-yTop+.15).toFixed(2), fill:colourFn(c[1])}, g);
      
      
    });
  });
}
function dots(p, rows, nRows, colour, size, scale, name){
  const dx = (p.x1-p.x0)/60, dv = (p.vmax-p.vmin)/nRows;
  let d = '';
  rows.forEach(row => {
    parseCells(row[1]).forEach(c => {
      const yTop = p.sy(p.vmin + (row[0]+1)*dv), h = p.sy(p.vmin + row[0]*dv) - yTop;
      const count = Math.round(c[1]*scale);
      for (let k = 0; k < count; k++){
        const jx = (k*5 + row[0]*7 + c[0]*3) % ditherX.length;
        const jy = (k*3 + row[0]*11 + c[0]*5) % ditherY.length;
        const x = p.x0 + (c[0] + ditherX[jx])*dx, y = yTop + ditherY[jy]*h;
        d += `M${x.toFixed(1)} ${y.toFixed(1)}h${size}v${size}h-${size}z`;
      }
    });
  });
  const path = make('path', {d:d, fill:colour}, p.body);
  
  
}
function smoothPath(pts){
  const n = pts.length;
  let d = `M${pts[0][0].toFixed(1)} ${pts[0][1].toFixed(1)}`;
  for (let i = 0; i < n; i++){
    const a = pts[(i-1+n)%n], b = pts[i], c = pts[(i+1)%n], e = pts[(i+2)%n];
    const c1 = [b[0]+(c[0]-a[0])/6, b[1]+(c[1]-a[1])/6], c2 = [c[0]-(e[0]-b[0])/6, c[1]-(e[1]-b[1])/6];
    d += `C${c1[0].toFixed(1)} ${c1[1].toFixed(1)} ${c2[0].toFixed(1)} ${c2[1].toFixed(1)} ${c[0].toFixed(1)} ${c[1].toFixed(1)}`;
  }
  return d + 'Z';
}
function contours(p, list, lowFilter, highFilter, name){
  const g = group(p.body, name);
  list.forEach(c => {
    const pts = c[1].map((l,i) => [p.sx(l), p.sy(c[2][i])]);
    const chosen = c[0] < .1 ? 'soft1' : (c[0] < .45 ? lowFilter : highFilter);
    const attrs = {d:smoothPath(pts), fill:colourOf(c[0]), filter:'url(#'+chosen+')'};
    if (c[3]) attrs['fill-opacity'] = c[3];
    const path = make('path', attrs, g);
    
    
  });
}
function unityLine(p){
  const l = make('line', {x1:p.x0, x2:p.x1, y1:p.sy(0), y2:p.sy(0), stroke:'#d6d6d6', 'stroke-width':1.1}, p.g);
  
  
}
function ratioPanelFinish(p, i){
  unityLine(p);
  frameAndTicks(p, ratioMajorTicks.map(Math.log10), ratioMinorTicks.map(Math.log10), 11, 6);
  ratioMajorTicks.forEach((v,k) => rich(p.g, p.x0-5, p.sy(Math.log10(v))+4, [[ratioLabels[k]]], {size:11.5, anchor:'end'}, 'y-tick-label'));
  xAxisText(p, 14.5, 35);
  rich(p.g, 413, p.y0+177, [['s','i'],['GBP','i sub'],['/'],['s','i'],['GRP','i sub']], {size:11.5, anchor:'middle', rot:true}, 'y-axis-title');
  annotation(p, 561, p.y0+(i==2?19:18), ratioAnnotations[i]);
  colourbar(744.3, p.y0, p.y1, ratioBarLabels[i]);
}
function colourPanelFinish(p, i){
  frameAndTicks(p, colourMajorTicks, colourMinorTicks, 11, 6);
  colourMajorTicks.forEach((v,k) => rich(p.g, p.x0-5, p.sy(v)+4, [[colourLabels[k]]], {size:11.5, anchor:'end'}, 'y-tick-label'));
  xAxisText(p, 14.5, 35);
  rich(p.g, 812, p.y0+175, [['G','i'],['BP','sub'],['\u2212'],['G','i'],['BP','sub'],[' (mag)']], {size:11.5, anchor:'middle', rot:true}, 'y-axis-title');
  annotation(p, 858, p.y0+19, colourAnnotations[i]);
  colourbar(1144.3, p.y0, p.y1, colourBarLabels[i]);
}
function histPanelFinish(p, i){
  refLine(p);
  frameAndTicks(p, histYTicks, [], 12, 6);
  histYLabelled.forEach(v => {
    rich(p.g, 28, p.sy(v)+4, [['10'],[(v<0?'\u2212':'')+Math.abs(v),'sup']], {size:11.5, anchor:'end'}, 'y-tick-label');
  });
  xAxisText(p, 15, 36);
  rich(p.g, 12, p.y0+162, [['N','i'],[' / bin size (mmag'],['\u22121','sup'],[')']], {size:10.8, anchor:'middle', rot:true}, 'y-axis-title');
  annotation(p, 216, p.y0+17.5, rowAnnotations[i], 'middle');
}

/* ---------- column 1: histograms ---------- */
const HMIN = -2.27, HMAX = 9.47;
const h1 = panel(33.3, 390, 13.5, 361, HMIN, HMAX, 'wd-histogram');
histogram(h1, wdAll, '#c8c8c8', '#000', 'hist-all-stars');
histogram(h1, wdWD, '#fff', '#000', 'hist-wd');
histogram(h1, wdOther, '#808080', '#000', 'hist-other');
histPanelFinish(h1, 0);
legend(247, 37.5, 128.5, 80, legendWD, [53,77,101], 14);

const h2 = panel(33.3, 390, 420, 768, HMIN, HMAX, 'sdcv-histogram');
histogram(h2, sdAll, '#c8c8c8', '#000', 'hist-all-stars');
histogram(h2, sdB, '#0000ee', '#0000ff', 'hist-sdb');
histogram(h2, sdCV, '#8b0000', '#b07050', 'hist-cv');
histogram(h2, sdEcl, '#00ffff', '#0030ff', 'hist-eclipsing-binary');
histogram(h2, sdWD, '#fff', '#000', 'hist-wd');
histogram(h2, sdOther, '#808080', '#000', 'hist-other');
histPanelFinish(h2, 1);
legend(247, 444, 128.5, 122, legendSD, [459.3,477.3,495.7,514,532,550.3], 10.2);

const h3 = panel(33.3, 390, 827, 1175, HMIN, HMAX, 'ms-histogram');
histogram(h3, msAll, '#c8c8c8', '#000', 'hist-all-stars');
histogram(h3, msSolar, '#00ee00', '#4a8a4a', 'hist-solar-like');
histogram(h3, msDSct, '#ff00ff', '#a040a0', 'hist-delta-scuti');
histogram(h3, msRSCVn, '#ff1493', '#c03050', 'hist-rs-cvn');
histogram(h3, msEcl, '#00ffff', '#0030ff', 'hist-eclipsing-binary');
histogram(h3, msYSO, '#8b4513', '#a02020', 'hist-yso');
histogram(h3, msRRLyr, '#7fff00', '#8a7a20', 'hist-rr-lyrae');
histogram(h3, msOther, '#808080', '#000', 'hist-other');
histPanelFinish(h3, 2);
legend(247, 851, 128.5, 150, legendMS, [866.7,883.3,900.3,917.3,934,951,967.7,984.3], 9);

/* ---------- column 2: amplitude-ratio maps ---------- */
const r1 = panel(441, 740.7, 7, 359, -1, 2, 'wd-ratio-map');
const wdRatioBinsX = 8, wdRatioBinsY = 6, wdRatioMax = 22;
{
  const g = group(r1.body, 'wd-ratio-cells');
  const dx = (r1.x1-r1.x0)/wdRatioBinsX, dv = 3/wdRatioBinsY;
  wdRatioCounts.forEach(c => {
    const top = r1.sy(-1 + (c[0]+1)*dv), bot = r1.sy(-1 + c[0]*dv);
    const rect = make('rect', {x:r1.x0+c[1]*dx, y:top, width:dx+.2, height:bot-top+.2, fill:colourOf(Math.log(c[2])/Math.log(wdRatioMax))}, g);
    
    
  });
}
ratioPanelFinish(r1, 0);

const r2 = panel(441, 740.7, 414, 766, -1, 2, 'sdcv-ratio-map');
cells(r2, sdRatioRows, 80, 60, c => colourOf(Math.log(c)/Math.log(17)), 'sdcv-ratio-cells');
ratioPanelFinish(r2, 1);

const r3 = panel(441, 740.7, 820, 1172.7, -1, 2, 'ms-ratio-map');
dots(r3, msRatioDots, 70, '#3a26d0', 1, 1, 'ms-ratio-outlier-points');
dots(r3, msRatioLeftDots, 70, '#3a26d0', 1, 1, 'ms-ratio-left-edge-points');
contours(r3, msRatioContours, 'soft3', 'soft2', 'ms-ratio-density');
ratioPanelFinish(r3, 2);

/* ---------- column 3: colour maps ---------- */
const c1 = panel(841, 1140, 7, 359, -1, 8, 'wd-colour-map');
cells(c1, wdColourRows, 80, 90, c => colourOf(wdColourLevelFractions[c]), 'wd-colour-cells');
colourPanelFinish(c1, 0);

const c2 = panel(841, 1140, 414, 766, -1, 8, 'sdcv-colour-map');
dots(c2, sdColourDots, 72, '#1f10b4', 1.3, 1.8, 'sdcv-colour-points');
contours(c2, sdColourContours, 'soft1', 'soft1', 'sdcv-colour-density');
colourPanelFinish(c2, 1);

const c3 = panel(841, 1140, 820, 1172.7, -1, 8, 'ms-colour-map');
dots(c3, msColourDots, 70, '#3a26d0', 1, 1, 'ms-colour-outlier-points');
contours(c3, msColourContours, 'soft3', 'soft2', 'ms-colour-density');
colourPanelFinish(c3, 2);
</script>
</body></html>
